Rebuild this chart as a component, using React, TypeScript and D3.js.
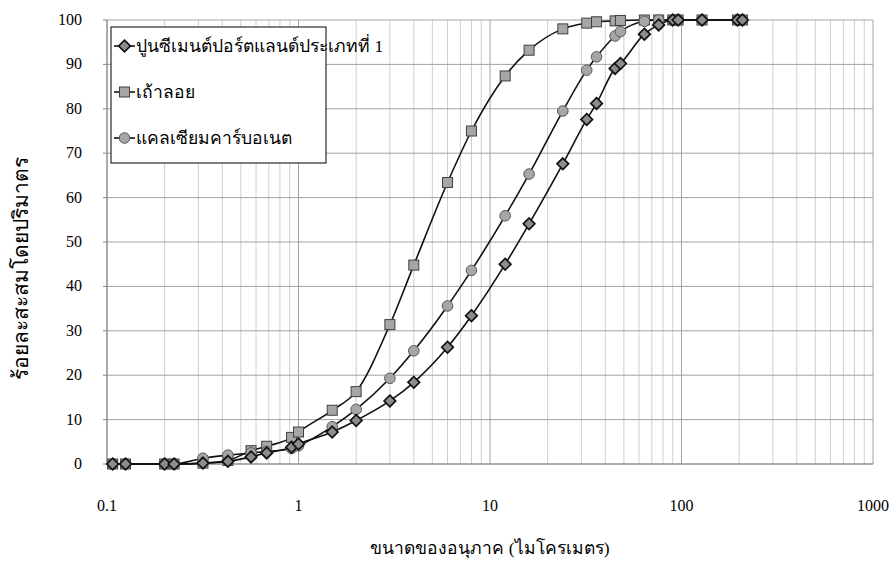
import React from "react";
import * as d3 from "d3";

// particle sizes (micron), shared by all three series
const sizes = [0.107, 0.125, 0.2, 0.224, 0.317, 0.428, 0.565, 0.682, 0.92, 1, 1.5, 2, 3, 4, 6, 8, 12, 16, 24, 32, 36, 45, 48, 64, 76, 90, 96, 128, 196, 208];

const cement = [0, 0, 0, 0, 0.2, 0.6, 1.6, 2.5, 3.8, 4.5, 7.2, 9.8, 14.2, 18.4, 26.3, 33.4, 45, 54.1, 67.6, 77.6, 81.2, 89.1, 90.2, 96.8, 98.9, 100, 100, 100, 100, 100];
const flyAsh = [0, 0, 0, 0, 0.2, 0.8, 3.0, 4.0, 6.0, 7.2, 12.1, 16.3, 31.4, 44.8, 63.4, 75, 87.4, 93.2, 98, 99.3, 99.6, 99.8, 99.9, 100, 100, 100, 100, 100, 100, 100];
const calcium = [0, 0, 0, 0, 1.3, 2.0, 2.5, 2.8, 3.5, 4.1, 8.4, 12.3, 19.3, 25.5, 35.6, 43.6, 55.9, 65.3, 79.5, 88.7, 91.7, 96.4, 97.4, 99.7, 100, 100, 100, 100, 100, 100];

const seriesNames = ["ปูนซีเมนต์ปอร์ตแลนด์ประเภทที่ 1", "เถ้าลอย", "แคลเซียมคาร์บอเนต"];
const seriesShapes = ["diamond", "square", "circle"];
const xTicks = [0.1, 1, 10, 100, 1000];
const yTicks = [0, 10, 20, 30, 40, 50, 60, 70, 80, 90, 100];

const xTitle = "ขนาดของอนุภาค (ไมโครเมตร)";
const yTitle = "ร้อยละสะสมโดยปริมาตร";

const W = 896;
const H = 562;
const FONT = "'Liberation Serif', 'Times New Roman', serif";

function Marker({ shape, x, y }: { shape: string; x: number; y: number }) {
  if (shape === "square") {
    return <rect x={x - 5} y={y - 5} width={10} height={10} fill="#a6a6a6" stroke="#404040" strokeWidth={1} />;
  }
  if (shape === "circle") {
    return <circle cx={x} cy={y} r={5.3} fill="#a6a6a6" stroke="#595959" strokeWidth={1} />;
  }
  return (
    <path
      d={`M${x},${y - 5.8}L${x + 5.8},${y}L${x},${y + 5.8}L${x - 5.8},${y}Z`}
      fill="#8c8c8c"
      stroke="#111"
      strokeWidth={1.7}
    />
  );
}

export default function App() {
  const x = d3.scaleLog().domain([0.1, 1000]).range([107, 873]);
  const y = d3.scaleLinear().domain([0, 100]).range([464, 20]);

  const minor: number[] = [];
  for (let dec = 0.1; dec < 1000; dec *= 10) {
    for (let k = 2; k <= 9; k++) minor.push(+(dec * k).toPrecision(3));
  }

  const all = [cement, flyAsh, calcium];
  const line = d3
    .line<number>()
    .x((_, i) => x(sizes[i]))
    .y((d) => y(d))
    .curve(d3.curveMonotoneX);

  return (
    <svg width={W} height={H} style={{ position: "absolute", left: 0, top: 0, background: "#fff" }}>
      {/* minor vertical grid */}
      {minor.map((m) => (
        <line key={"m" + m} x1={x(m)} x2={x(m)} y1={y(0)} y2={y(100)} stroke="#cfcfcf" strokeWidth={1} />
      ))}
      {/* major vertical grid */}
      {xTicks.map((t) => (
        <line key={"M" + t} x1={x(t)} x2={x(t)} y1={y(0)} y2={y(100)} stroke="#a3a3a3" strokeWidth={1} />
      ))}
      {/* horizontal grid */}
      {yTicks.map((t) => (
        <line key={"h" + t} x1={x(0.1)} x2={x(1000)} y1={y(t)} y2={y(t)} stroke="#a3a3a3" strokeWidth={1} />
      ))}
      {/* axes */}
      <line x1={x(0.1)} x2={x(0.1)} y1={y(0)} y2={y(100)} stroke="#868686" strokeWidth={1} />
      <line x1={x(0.1)} x2={x(1000)} y1={y(0)} y2={y(0)} stroke="#868686" strokeWidth={1} />
      {yTicks.map((t) => (
        <line key={"yt" + t} x1={x(0.1) - 4} x2={x(0.1)} y1={y(t)} y2={y(t)} stroke="#868686" />
      ))}

      {/* tick labels */}
      {yTicks.map((t) => (
        <text key={"yl" + t} x={82} y={y(t) + 5} textAnchor="end" fontFamily={FONT} fontSize={16} fill="#000">
          {t}
        </text>
      ))}
      {xTicks.map((t) => (
        <text key={"xl" + t} x={x(t)} y={511} textAnchor="middle" fontFamily={FONT} fontSize={16} fill="#000">
          {t}
        </text>
      ))}

      {/* series */}
      {all.map((vals, si) => (
        <g key={"s" + si}>
          <path d={line(vals) || ""} fill="none" stroke="#111" strokeWidth={1.6} />
        </g>
      ))}
      {[1, 2, 0].map((si) => (
        <g key={"mk" + si}>
          {all[si].map((v, i) => (
            <Marker key={i} shape={seriesShapes[si]} x={x(sizes[i])} y={y(v)} />
          ))}
        </g>
      ))}

      {/* legend */}
      <rect x={111} y={27} width={215} height={136} fill="#fff" stroke="#000" strokeWidth={1} />
      {seriesNames.map((name, i) => (
        <g key={"lg" + i}>
          <line x1={114} x2={135} y1={46 + i * 46} y2={46 + i * 46} stroke="#111" strokeWidth={1.6} />
          <Marker shape={seriesShapes[i]} x={124.5} y={46 + i * 46} />
          <text x={136} y={52 + i * 46} fontFamily={FONT} fontSize={17.5} fill="#000">
            {name}
          </text>
        </g>
      ))}

      {/* axis titles */}
      <text x={490} y={554} textAnchor="middle" fontFamily={FONT} fontSize={17.5} fill="#000">
        {xTitle}
      </text>
      <text
        transform={`translate(28, 268) rotate(-90)`}
        textAnchor="middle"
        fontFamily={FONT}
        fontSize={21}
        fill="#000"
      >
        {yTitle}
      </text>
    </svg>
  );
}
